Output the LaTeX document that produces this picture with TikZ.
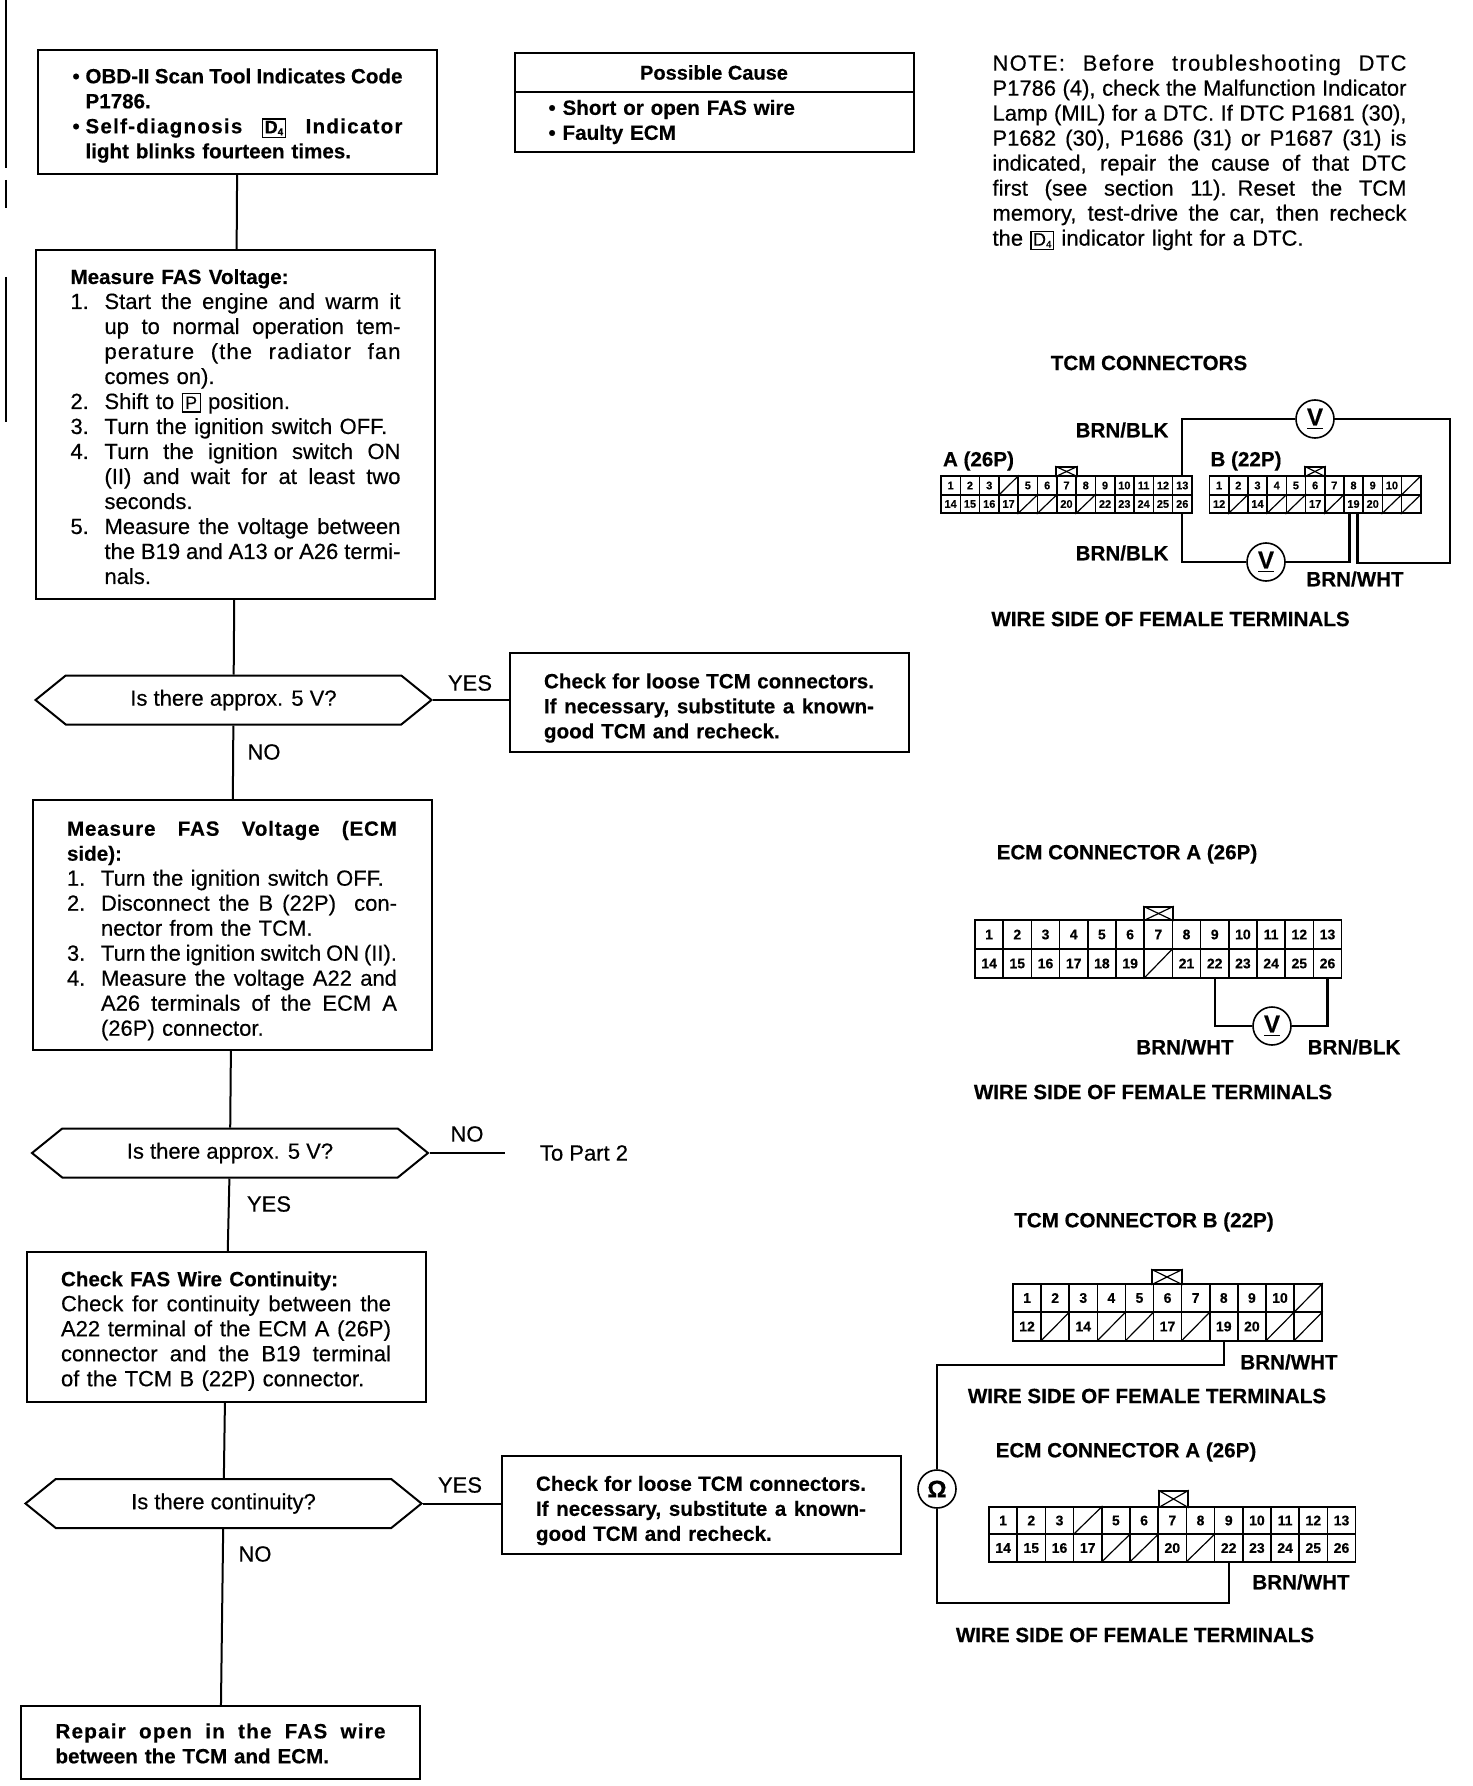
\documentclass[tikz,border=0pt]{standalone}
\usepackage{fontspec}
\setmainfont{Liberation Sans}[FakeBold=0.4]
\usetikzlibrary{shapes.symbols}

\newcommand{\stretchspaces}{\spaceskip=.3333em plus 2em minus .12em\relax}
\newcommand{\fullline}[1]{\makebox[165pt][s]{\stretchspaces #1}}
\newcommand{\stepj}[2]{\makebox[17pt][l]{#1}\makebox[148pt][s]{\stretchspaces #2}}
\newcommand{\stepf}[2]{\makebox[17pt][l]{#1}#2}
\newcommand{\bulj}[1]{\makebox[6.5pt][l]{\textbullet}\makebox[158.5pt][s]{\stretchspaces #1}}
\newcommand{\noteline}[1]{\makebox[207pt][s]{\stretchspaces #1}}
\newcommand{\headtext}[1]{{\fontsize{10.3}{12.5}\bfseries\selectfont #1}}
\newcommand{\spaced}[2]{{\addfontfeature{LetterSpace=#1}#2}}
\newcommand{\dfour}{{\fboxsep=.7pt\fboxrule=.6pt\fbox{\fontsize{9}{9}\selectfont D\raisebox{-1pt}{\tiny 4}}}}
\newcommand{\pbox}{{\fboxsep=1.2pt\fboxrule=.6pt\fbox{\fontsize{9}{9}\selectfont P}}}
% one row of a terminal block: style, prefix, first number, left x, y, cell w, cell h, labels
\newcommand{\termrow}[8]{%
  \foreach \lab [count=\n from #3] in {#8} {
    \node [termcell, #1, minimum width={#6*0.5pt}, minimum height={#7*0.5pt}] (#2\n) at ({#4+(\n-#3+.5)*#6},#5) {\lab};
  }
}

\tikzset{
  flowbox/.style={draw, line width=1pt, minimum width=199.5pt, inner xsep=17.25pt, inner ysep=0pt, text width=165pt, align=left, execute at begin node=\rule{0pt}{#1}},
  flowbox/.default=13pt,
  flowbold/.style={flowbox=#1, font=\fontsize{10.3}{12.5}\bfseries\selectfont},
  flowbold/.default=13pt,
  askbox/.style={draw, line width=1pt, signal, signal to=west and east, signal pointer angle=78, minimum width=198pt, minimum height=24.5pt, inner sep=0pt},
  flowline/.style={line width=1pt},
  wire/.style={line width=1.1pt},
  meter/.style={draw, circle, line width=.8pt, minimum size=19pt, inner sep=0pt, font=\fontsize{12}{12}\bfseries\selectfont},
  caption/.style={font=\fontsize{10.3}{12.5}\bfseries\selectfont, inner sep=0pt},
  termcell/.style={draw, line width=.8pt, inner sep=0pt},
  termsmall/.style={font=\fontsize{5.5}{6}\bfseries\selectfont},
  termlarge/.style={font=\fontsize{7}{8}\bfseries\selectfont},
  termtab/.style={draw, line width=.8pt, inner sep=0pt},
}

\begin{document}
\begin{tikzpicture}[x=0.5pt, y=-0.5pt, font=\fontsize{11}{12.5}\selectfont]
\useasboundingbox (0,0) rectangle (1472,1786);

% flow chart
\node [flowbold=11pt, minimum height=62pt] (scantool) at (237.5,112) {\bulj{OBD-II Scan Tool Indicates Code}\\\hspace*{6.5pt}P1786.\\\bulj{\spaced{6}{Self-diagnosis} \dfour{} \spaced{6}{Indicator}}\\\hspace*{6.5pt}light blinks fourteen times.};
\node [flowbox=9.6pt, minimum height=174.5pt] (measurea) at (235.5,424.5) {\headtext{Measure FAS Voltage:}\\
\stepj{1.}{Start the engine and warm it}\\
\stepj{}{up to normal operation tem-}\\
\stepj{}{\spaced{5}{perature (the radiator fan}}\\
\stepf{}{comes on).}\\
\stepf{2.}{Shift to \pbox{} position.}\\
\stepf{3.}{Turn the ignition switch OFF.}\\
\stepj{4.}{Turn the ignition switch ON}\\
\stepj{}{(II) and wait for at least two}\\
\stepf{}{seconds.}\\
\stepj{5.}{Measure the voltage between}\\
\stepj{}{the B19 and A13 or A26 termi-}\\
\stepf{}{nals.}};
\node [askbox] (approxa) at (233.5,700) {Is there approx. 5 V?};
\node [flowbold, minimum height=49.5pt] (loosea) at (709,702.5) {\fullline{Check for loose TCM connectors.}\\\fullline{If necessary, substitute a known-}\\good TCM and recheck.};
\node [flowbox, minimum height=125pt] (measureb) at (232,925) {\fullline{\headtext{\spaced{4}{Measure FAS Voltage (ECM}}}\\\headtext{side):}\\
\stepf{1.}{Turn the ignition switch OFF.}\\
\stepj{2.}{Disconnect the B (22P) \ con-}\\
\stepf{}{nector from the TCM.}\\
\stepj{3.}{Turn the ignition switch ON (II).}\\
\stepj{4.}{Measure the voltage A22 and}\\
\stepj{}{A26 terminals of the ECM A}\\
\stepf{}{(26P) connector.}};
\node [askbox] (approxb) at (230,1153) {Is there approx. 5 V?};
\node (toparttwo) at (584,1153) {To Part 2};
\coordinate (partend) at (505,1153);
\node [flowbox=11.5pt, minimum height=75pt] (contcheck) at (226,1327) {\headtext{Check FAS Wire Continuity:}\\
\fullline{Check for continuity between the}\\
\fullline{A22 terminal of the ECM A (26P)}\\
\fullline{connector and the B19 terminal}\\
of the TCM B (22P) connector.};
\node [askbox] (contask) at (223.5,1503.5) {Is there continuity?};
\node [flowbold, minimum height=49pt] (looseb) at (701,1505) {\fullline{Check for loose TCM connectors.}\\\fullline{If necessary, substitute a known-}\\good TCM and recheck.};
\node [flowbold=8.4pt, minimum height=36.5pt] (repair) at (220.5,1742.5) {\fullline{\spaced{6}{Repair open in the FAS wire}}\\between the TCM and ECM.};

\draw [flowline] (scantool) -- (measurea);
\draw [flowline] (measurea) -- (approxa);
\draw [flowline] (approxa.east) -- (approxa.east -| loosea.west);
\draw [flowline] (approxa) -- (measureb);
\draw [flowline] (measureb) -- (approxb);
\draw [flowline] (approxb.east) -- (partend);
\draw [flowline] (approxb) -- (contcheck);
\draw [flowline] (contcheck) -- (contask);
\draw [flowline] (contask.east) -- (contask.east -| looseb.west);
\draw [flowline] (contask) -- (repair);

\node (yesa) at (470,683) {YES};
\node (noa) at (264,752) {NO};
\node (nob) at (467,1134) {NO};
\node (yesb) at (269,1204) {YES};
\node (yesc) at (460,1485) {YES};
\node (noc) at (255,1554) {NO};

% possible cause and note
\node [draw, line width=1pt, minimum width=199.5pt, minimum height=19.5pt, inner sep=0pt, font=\fontsize{10}{12.5}\bfseries\selectfont] (causehead) at (714,72.5) {Possible Cause};
\node [draw, line width=1pt, minimum width=199.5pt, minimum height=30pt, inner xsep=17pt, inner ysep=0pt, text width=165.5pt, align=left, font=\fontsize{10.3}{12.5}\bfseries\selectfont] (causelist) at (714,122) {\textbullet\ Short or open FAS wire\\\textbullet\ Faulty ECM};
\node [text width=207pt, inner sep=0pt, align=left] (note) at (1199.5,152.5) {\noteline{\spaced{6}{NOTE: Before troubleshooting DTC}}\\
\noteline{P1786 (4), check the Malfunction Indicator}\\
\noteline{Lamp (MIL) for a DTC. If DTC P1681 (30),}\\
\noteline{P1682 (30), P1686 (31) or P1687 (31) is}\\
\noteline{indicated, repair the cause of that DTC}\\
\noteline{first (see section 11). Reset the TCM}\\
\noteline{memory, test-drive the car, then recheck}\\
the \dfour{} indicator light for a DTC.};

% TCM connectors
\node [caption] (tcmtitle) at (1149,363) {TCM CONNECTORS};
\node [caption] (alabel) at (978.5,461) {A (26P)};
\node [caption] (blabel) at (1246,461) {B (22P)};
\termrow{termsmall}{a}{1}{941}{485.5}{19.3}{19}{1,2,3,{},5,6,7,8,9,10,11,12,13}
\termrow{termsmall}{a}{14}{941}{504}{19.3}{18.5}{14,15,16,17,{},{},20,{},22,23,24,25,26}
\termrow{termsmall}{b}{1}{1209.5}{485.5}{19.2}{19}{1,2,3,4,5,6,7,8,9,10,{}}
\termrow{termsmall}{b}{12}{1209.5}{504}{19.2}{18.5}{12,{},14,{},{},17,{},19,20,{},{}}
\node [termtab, minimum width=10.5pt, minimum height=4.5pt] (atab) at (1066.5,471.5) {};
\node [termtab, minimum width=10pt, minimum height=4.5pt] (btab) at (1315,471.5) {};
\node [caption] (blka) at (1122,430) {BRN/BLK};
\node [caption] (blkb) at (1122,553) {BRN/BLK};
\node [caption] (whta) at (1355,579) {BRN/WHT};
\node [meter] (vtop) at (1315,419) {\underline{V}};
\node [meter] (vbot) at (1266,562) {\underline{V}};
\coordinate (loopa) at (1450,563);
\draw [wire] (a13.north) |- (vtop.west);
\draw [wire] (vtop.east) -| (loopa) -| ([xshift=2pt]b19.south);
\draw [wire] (a26.south) |- (vbot.west);
\draw [wire] (vbot.east) -| ([xshift=-2pt]b19.south);
\node [caption] (wirea) at (1170.5,619) {WIRE SIDE OF FEMALE TERMINALS};

% ECM connector
\node [caption] (ecmtitle) at (1127,854) {ECM CONNECTOR A (26P)};
\termrow{termlarge}{c}{1}{975}{934.5}{28.2}{29}{1,2,3,4,5,6,7,8,9,10,11,12,13}
\termrow{termlarge}{c}{14}{975}{963.5}{28.2}{29}{14,15,16,17,18,19,{},21,22,23,24,25,26}
\node [termtab, minimum width=14.5pt, minimum height=6.5pt] (ctab) at (1158.5,913.5) {};
\node [meter] (vecm) at (1272,1026) {\underline{V}};
\draw [wire] (c22.south) |- (vecm.west);
\draw [wire] (vecm.east) -| (c26.south);
\node [caption] (whtb) at (1185,1047) {BRN/WHT};
\node [caption] (blkc) at (1354,1047) {BRN/BLK};
\node [caption] (wireb) at (1153,1092) {WIRE SIDE OF FEMALE TERMINALS};

% continuity check
\node [caption] (tcmbtitle) at (1144,1222) {TCM CONNECTOR B (22P)};
\termrow{termlarge}{d}{1}{1013}{1298}{28.1}{28.5}{1,2,3,4,5,6,7,8,9,10,{}}
\termrow{termlarge}{d}{12}{1013}{1326.5}{28.1}{28.5}{12,{},14,{},{},17,{},19,20,{},{}}
\node [termtab, minimum width=15pt, minimum height=7pt] (dtab) at (1167,1277) {};
\node [caption] (whtc) at (1289,1362) {BRN/WHT};
\node [caption] (wirec) at (1147,1396) {WIRE SIDE OF FEMALE TERMINALS};
\node [caption] (ecmbtitle) at (1126,1452) {ECM CONNECTOR A (26P)};
\termrow{termlarge}{e}{1}{989}{1520.5}{28.2}{27.5}{1,2,3,{},5,6,7,8,9,10,11,12,13}
\termrow{termlarge}{e}{14}{989}{1548}{28.2}{27.5}{14,15,16,17,{},{},20,{},22,23,24,25,26}
\node [termtab, minimum width=14.5pt, minimum height=8pt] (etab) at (1173.5,1499) {};
\node [caption] (whtd) at (1301,1582) {BRN/WHT};
\node [caption] (wired) at (1135,1635) {WIRE SIDE OF FEMALE TERMINALS};
\node [meter] (ohm) at (937,1489) {Ω};
\coordinate (ohmtop) at (937,1365);
\coordinate (ohmbot) at (937,1603);
\draw [wire] (d19.south) |- (ohmtop) -- (ohm.north);
\draw [wire] (ohm.south) -- (ohmbot) -| (e22.south);

% blanked terminals and locking tabs
\foreach \c in {a4,a18,a19,a21,b11,b13,b15,b16,b18,b21,b22,c20,d11,d13,d15,d16,d18,d21,d22,e4,e18,e19,e21} {
  \draw [line width=.6pt] (\c.south west) -- (\c.north east);
}
\foreach \t in {atab,btab,ctab,dtab,etab} {
  \draw [line width=.6pt] (\t.north west) -- (\t.south east);
  \draw [line width=.6pt] (\t.south west) -- (\t.north east);
}

% rule at the left page edge
\draw [line width=.6pt] (6,0) -- (6,168);
\draw [line width=.6pt] (6,180) -- (6,208);
\draw [line width=.6pt] (6,277) -- (6,422);
\end{tikzpicture}
\end{document}
